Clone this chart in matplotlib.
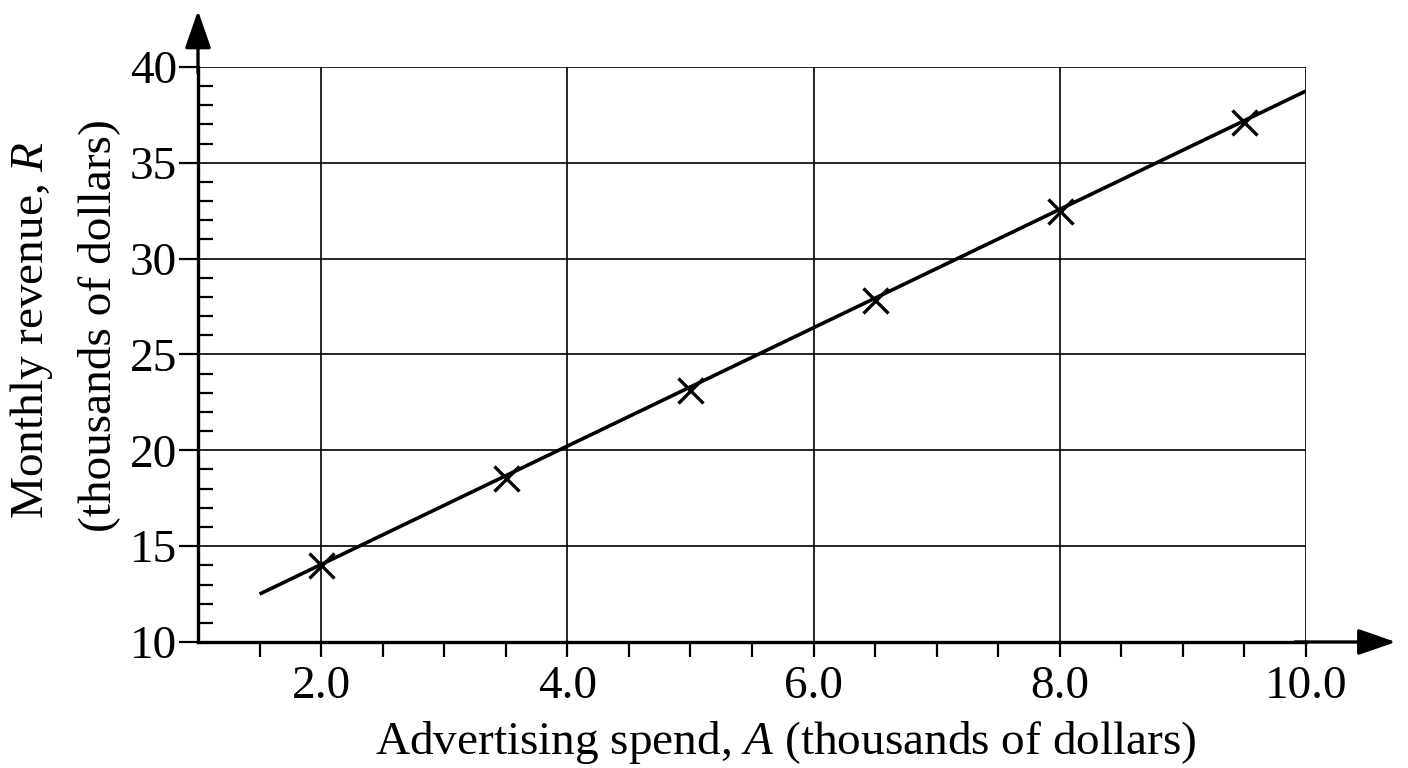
import matplotlib
matplotlib.use("Agg")
import matplotlib.pyplot as plt
from matplotlib.ticker import FixedLocator

plt.rcParams['font.family'] = ['Liberation Serif', 'DejaVu Serif']
plt.rcParams['mathtext.fontset'] = 'custom'
plt.rcParams['mathtext.rm'] = 'Liberation Serif'
plt.rcParams['mathtext.it'] = 'Liberation Serif:italic'

# Data
spend = [2.0, 3.5, 5.0, 6.5, 8.0, 9.5]
revenue = [14.0, 18.55, 23.15, 27.85, 32.5, 37.15]
line_x = [1.5, 10.0]
line_y = [12.5, 38.75]
x_ticks = [2.0, 4.0, 6.0, 8.0, 10.0]
x_tick_labels = ['2.0', '4.0', '6.0', '8.0', '10.0']
x_minor = [1.5, 2.5, 3.0, 3.5, 4.5, 5.0, 5.5, 6.5, 7.0, 7.5, 8.5, 9.0, 9.5]
y_ticks = [10, 15, 20, 25, 30, 35, 40]
y_minor = [v for v in range(11, 40) if v % 5 != 0]

W, H = 1408, 768
fig = plt.figure(figsize=(W / 100, H / 100), dpi=100)
L, R_, B, T = 198, 1306, 642, 67
ax = fig.add_axes([L / W, 1 - B / H, (R_ - L) / W, (B - T) / H])
ax.set_xlim(1.0, 10.0)
ax.set_ylim(10, 40)

# grid
for gx in x_ticks:
    ax.axvline(gx, color='black', lw=1.2, zorder=1)
for gy in y_ticks[1:]:
    ax.axhline(gy, color='black', lw=1.2, zorder=1)

ax.plot(line_x, line_y, color='black', lw=2.6, zorder=3, solid_capstyle='butt')
ax.plot(spend, revenue, linestyle='none', marker='x', color='black',
        markersize=18, markeredgewidth=2.4, zorder=4)

for s in ['top', 'right']:
    ax.spines[s].set_visible(False)
ax.spines['left'].set_linewidth(2.4)
ax.spines['bottom'].set_linewidth(2.4)
ax.spines['left'].set_zorder(5)
ax.spines['bottom'].set_zorder(5)

# arrows
ax.annotate('', xy=(1.081, 0), xytext=(0.99, 0), xycoords='axes fraction',
            arrowprops=dict(arrowstyle='-|>,head_length=2.3,head_width=0.8',
                            color='black', lw=2.4, shrinkA=0, shrinkB=0),
            annotation_clip=False, zorder=6)
ax.annotate('', xy=(0, 1.098), xytext=(0, 0.99), xycoords='axes fraction',
            arrowprops=dict(arrowstyle='-|>,head_length=2.3,head_width=0.8',
                            color='black', lw=2.4, shrinkA=0, shrinkB=0),
            annotation_clip=False, zorder=6)

ax.set_xticks(x_ticks)
ax.set_xticklabels(x_tick_labels)
ax.xaxis.set_minor_locator(FixedLocator(x_minor))
ax.tick_params(axis='x', which='both', direction='out', length=11, width=1.6,
               labelsize=34, pad=6)
ax.set_yticks(y_ticks)
ax.yaxis.set_minor_locator(FixedLocator(y_minor))
ax.tick_params(axis='y', which='major', direction='out', length=14, width=1.6,
               labelsize=34, pad=1)
ax.tick_params(axis='y', which='minor', direction='in', length=11, width=1.6)

fig.text(786 / W, 1 - 742 / H, 'Advertising spend, $A$ (thousands of dollars)',
         ha='center', va='center', fontsize=34)
fig.text(32 / W, 1 - 330 / H, 'Monthly revenue, $R$', rotation=90,
         ha='center', va='center', fontsize=34)
fig.text(99 / W, 1 - 326 / H, '(thousands of dollars)', rotation=90,
         ha='center', va='center', fontsize=34)

fig.savefig('out.png', dpi=100, facecolor='white')
